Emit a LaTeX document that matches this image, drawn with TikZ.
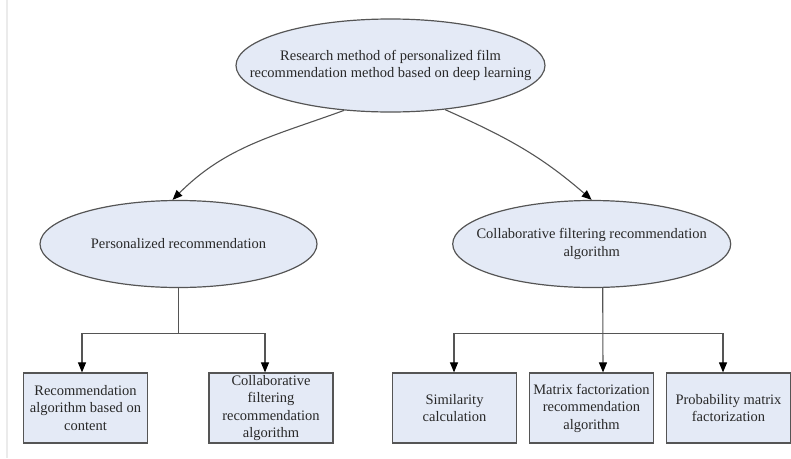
\documentclass[tikz,border=0pt]{standalone}
\usepackage{fontspec}
\setmainfont{Liberation Serif}
\usetikzlibrary{shapes.geometric,arrows.meta}
\definecolor{nodefill}{RGB}{228,234,246}
\definecolor{edgegray}{RGB}{85,85,85}
\definecolor{txtgray}{RGB}{40,40,40}
\begin{document}
\begin{tikzpicture}[x=1pt,y=1pt,
  ell/.style={ellipse,draw=edgegray,fill=nodefill,line width=1.2pt,inner sep=0pt},
  boxnode/.style={rectangle,draw=edgegray,fill=nodefill,line width=1.2pt,inner sep=0pt,
                  minimum width=124pt,minimum height=70pt},
  lbl/.style={align=center,text=txtgray,inner sep=0pt,
              font=\fontsize{14.5}{17.5}\selectfont},
  conn/.style={draw=edgegray,line width=1.1pt},
  arr/.style={conn,-{Triangle[length=10pt,width=8pt,fill=black,color=black]}}]
\useasboundingbox (0,0) rectangle (791,-458);
% thin page-edge rule on the left
\draw[color=black!8,line width=2pt] (7,0) -- (7,-458);

% ellipses
\node[ell,minimum width=309pt,minimum height=93pt] (root) at (390.5,-65.5) {};
\node[lbl] at (root) {Research method of personalized film\\recommendation method based on deep learning};
\node[ell,minimum width=277pt,minimum height=87pt] (pr) at (178.5,-244) {};
\node[lbl] at (pr) {Personalized recommendation};
\node[ell,minimum width=278pt,minimum height=87pt] (cf) at (591.7,-244) {};
\node[lbl] at (cf) {Collaborative filtering recommendation\\algorithm};

% boxes
\node[boxnode] (b1) at (85.5,-408) {};
\node[lbl] at (b1) {Recommendation\\algorithm based on\\content};
\node[boxnode] (b2) at (271,-408) {};
\node[lbl] at (b2) {Collaborative\\filtering\\recommendation\\algorithm};
\node[boxnode] (b3) at (454.5,-408) {};
\node[lbl] at (b3) {Similarity\\calculation};
\node[boxnode] (b4) at (591.5,-408) {};
\node[lbl] at (b4) {Matrix factorization\\recommendation\\algorithm};
\node[boxnode] (b5) at (728.5,-408) {};
\node[lbl] at (b5) {Probability matrix\\factorization};

% curved links from the root
\draw[arr] (root.224) to[out=200,in=45] ([xshift=-6pt]pr.north);
\draw[arr] (root.321) to[out=336,in=139] (cf.north);

% left branch
\draw[conn] (pr.south) -- ++(0,-45) coordinate (lj);
\draw[arr] (lj) -| ([xshift=-3.5pt]b1.north);
\draw[arr] (lj) -| ([xshift=-6pt]b2.north);

% right branch
\draw[arr] ([xshift=11pt,yshift=0.5pt]cf.south) -- ([xshift=11.5pt]b4.north);
\coordinate (rj) at ([xshift=11.5pt]b4.north |- lj);
\draw[arr] (rj) -| ([xshift=-0.5pt]b3.north);
\draw[arr] (rj) -| ([xshift=-5.5pt]b5.north);
\end{tikzpicture}
\end{document}
